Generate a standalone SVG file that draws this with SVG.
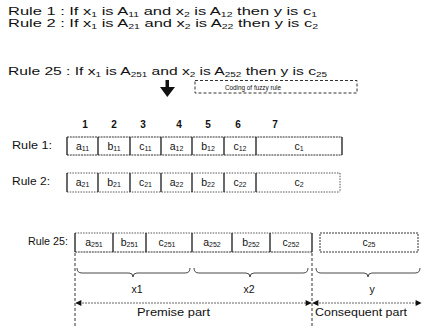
<svg xmlns="http://www.w3.org/2000/svg" width="426" height="327" viewBox="0 0 426 327">
  <defs>
    <style>
      text { font-family: "Liberation Sans", Arial, sans-serif; fill: #111; }
      .t { font-size: 11px; }
      .lbl { font-size: 10.5px; }
      .num { font-size: 10px; font-weight: bold; text-anchor: middle; }
      .cell text { font-size: 10.5px; text-anchor: middle; }
      .sb { font-size: 7px; }
      .small { font-size: 7px; }
      .vline { stroke: #1a1a1a; stroke-width: 1.3; }
      .hline { stroke: #333; stroke-width: 1; stroke-dasharray: 2 0.8; }
      .hdot { stroke: #555; stroke-width: 1; stroke-dasharray: 1.5 1.2; }
      .dash { fill: none; stroke: #333; stroke-width: 1; stroke-dasharray: 3 2; }
      .brace { fill: none; stroke: #333; stroke-width: 0.9; }
      .dim { stroke: #555; stroke-width: 0.9; stroke-dasharray: 2 1; }
    </style>
    <marker id="ah" viewBox="0 0 10 10" refX="9" refY="5" markerWidth="7" markerHeight="6" orient="auto-start-reverse" markerUnits="userSpaceOnUse">
      <path d="M0,0 L10,5 L0,10 z" fill="#111"/>
    </marker>
  </defs>

  <rect width="426" height="327" fill="#fff"/>

  <!-- rule statements (wide lettering) -->
  <g id="rule1-text">
    <text class="t" x="8" y="15" textLength="309" lengthAdjust="spacingAndGlyphs">Rule 1 : If x<tspan class="sb" dy="2">1</tspan><tspan dy="-2"> is A</tspan><tspan class="sb" dy="2">11</tspan><tspan dy="-2"> and x</tspan><tspan class="sb" dy="2">2</tspan><tspan dy="-2"> is A</tspan><tspan class="sb" dy="2">12</tspan><tspan dy="-2"> then y is c</tspan><tspan class="sb" dy="2">1</tspan></text>
  </g>
  <g id="rule2-text">
    <text class="t" x="8" y="27" textLength="310" lengthAdjust="spacingAndGlyphs">Rule 2 : If x<tspan class="sb" dy="2">1</tspan><tspan dy="-2"> is A</tspan><tspan class="sb" dy="2">21</tspan><tspan dy="-2"> and x</tspan><tspan class="sb" dy="2">2</tspan><tspan dy="-2"> is A</tspan><tspan class="sb" dy="2">22</tspan><tspan dy="-2"> then y is c</tspan><tspan class="sb" dy="2">2</tspan></text>
  </g>
  <g id="rule25-text">
    <text class="t" x="8" y="75" textLength="319" lengthAdjust="spacingAndGlyphs">Rule 25 : If x<tspan class="sb" dy="2">1</tspan><tspan dy="-2"> is A</tspan><tspan class="sb" dy="2">251</tspan><tspan dy="-2"> and x</tspan><tspan class="sb" dy="2">2</tspan><tspan dy="-2"> is A</tspan><tspan class="sb" dy="2">252</tspan><tspan dy="-2"> then y is c</tspan><tspan class="sb" dy="2">25</tspan></text>
  </g>

  <!-- coding arrow and caption box -->
  <g id="coding-arrow">
    <rect x="165.5" y="80" width="3.5" height="8" fill="#111"/>
    <path d="M160,87 L175,87 L167.3,97 z" fill="#111"/>
  </g>
  <g id="coding-box">
    <rect class="dash" x="195" y="80.5" width="162" height="12.5"/>
    <text class="small" x="225" y="89.5" textLength="56" lengthAdjust="spacingAndGlyphs">Coding of fuzzy rule</text>
  </g>

  <!-- gene position numbers -->
  <g id="positions">
    <text class="num" x="85" y="128">1</text>
    <text class="num" x="114" y="128">2</text>
    <text class="num" x="143" y="128">3</text>
    <text class="num" x="179" y="128">4</text>
    <text class="num" x="208" y="128">5</text>
    <text class="num" x="238" y="128">6</text>
    <text class="num" x="275" y="128">7</text>
  </g>

  <!-- Rule 1 chromosome -->
  <g id="row-rule1">
    <text class="lbl" x="12" y="149" textLength="40" lengthAdjust="spacingAndGlyphs">Rule 1:</text>
    <line class="hline" x1="67" y1="137" x2="342" y2="137"/>
    <line class="hline" x1="67" y1="155" x2="342" y2="155"/>
    <line class="vline" x1="67" y1="137" x2="67" y2="155"/>
    <line class="vline" x1="98" y1="137" x2="98" y2="155"/>
    <line class="vline" x1="130" y1="137" x2="130" y2="155"/>
    <line class="vline" x1="161" y1="137" x2="161" y2="155"/>
    <line class="vline" x1="192" y1="137" x2="192" y2="155"/>
    <line class="vline" x1="224" y1="137" x2="224" y2="155"/>
    <line class="vline" x1="256" y1="137" x2="256" y2="155"/>
    <line class="vline" x1="342" y1="137" x2="342" y2="155"/>
    <g id="r1-a11" class="cell"><text x="82.5" y="149.5">a<tspan class="sb" dy="1">11</tspan></text></g>
    <g id="r1-b11" class="cell"><text x="114" y="149.5">b<tspan class="sb" dy="1">11</tspan></text></g>
    <g id="r1-c11" class="cell"><text x="145.5" y="149.5">c<tspan class="sb" dy="1">11</tspan></text></g>
    <g id="r1-a12" class="cell"><text x="176.5" y="149.5">a<tspan class="sb" dy="1">12</tspan></text></g>
    <g id="r1-b12" class="cell"><text x="208" y="149.5">b<tspan class="sb" dy="1">12</tspan></text></g>
    <g id="r1-c12" class="cell"><text x="240" y="149.5">c<tspan class="sb" dy="1">12</tspan></text></g>
    <g id="r1-c1" class="cell"><text x="299" y="149.5">c<tspan class="sb" dy="1">1</tspan></text></g>
  </g>

  <!-- Rule 2 chromosome -->
  <g id="row-rule2">
    <text class="lbl" x="12" y="185" textLength="38" lengthAdjust="spacingAndGlyphs">Rule 2:</text>
    <line class="hdot" x1="67" y1="173" x2="340" y2="173"/>
    <line class="hdot" x1="67" y1="192" x2="340" y2="192"/>
    <line class="vline" x1="67" y1="173" x2="67" y2="192"/>
    <line class="vline" x1="98" y1="173" x2="98" y2="192"/>
    <line class="vline" x1="130" y1="173" x2="130" y2="192"/>
    <line class="vline" x1="161" y1="173" x2="161" y2="192"/>
    <line class="vline" x1="192" y1="173" x2="192" y2="192"/>
    <line class="vline" x1="224" y1="173" x2="224" y2="192"/>
    <line class="vline" x1="256" y1="173" x2="256" y2="192"/>
    <line class="hdot" x1="340" y1="173" x2="340" y2="192"/>
    <g id="r2-a21" class="cell"><text x="82.5" y="186">a<tspan class="sb" dy="1">21</tspan></text></g>
    <g id="r2-b21" class="cell"><text x="114" y="186">b<tspan class="sb" dy="1">21</tspan></text></g>
    <g id="r2-c21" class="cell"><text x="145.5" y="186">c<tspan class="sb" dy="1">21</tspan></text></g>
    <g id="r2-a22" class="cell"><text x="176.5" y="186">a<tspan class="sb" dy="1">22</tspan></text></g>
    <g id="r2-b22" class="cell"><text x="208" y="186">b<tspan class="sb" dy="1">22</tspan></text></g>
    <g id="r2-c22" class="cell"><text x="240" y="186">c<tspan class="sb" dy="1">22</tspan></text></g>
    <g id="r2-c2" class="cell"><text x="299" y="186">c<tspan class="sb" dy="1">2</tspan></text></g>
  </g>

  <!-- Rule 25 chromosome -->
  <g id="row-rule25">
    <text class="lbl" x="28" y="245" textLength="40" lengthAdjust="spacingAndGlyphs">Rule 25:</text>
    <line class="hdot" x1="75" y1="233" x2="312" y2="233"/>
    <line class="hline" x1="75" y1="252" x2="312" y2="252"/>
    <line class="vline" x1="75" y1="233" x2="75" y2="252"/>
    <line class="vline" x1="113" y1="233" x2="113" y2="252"/>
    <line class="vline" x1="146" y1="233" x2="146" y2="252"/>
    <line class="vline" x1="192" y1="233" x2="192" y2="252"/>
    <line class="vline" x1="232" y1="233" x2="232" y2="252"/>
    <line class="vline" x1="270" y1="233" x2="270" y2="252"/>
    <line class="vline" x1="312" y1="233" x2="312" y2="252"/>
    <g id="r25-a251" class="cell"><text x="94" y="246">a<tspan class="sb" dy="1">251</tspan></text></g>
    <g id="r25-b251" class="cell"><text x="129.5" y="246">b<tspan class="sb" dy="1">251</tspan></text></g>
    <g id="r25-c251" class="cell"><text x="167" y="246">c<tspan class="sb" dy="1">251</tspan></text></g>
    <g id="r25-a252" class="cell"><text x="212" y="246">a<tspan class="sb" dy="1">252</tspan></text></g>
    <g id="r25-b252" class="cell"><text x="251" y="246">b<tspan class="sb" dy="1">252</tspan></text></g>
    <g id="r25-c252" class="cell"><text x="291" y="246">c<tspan class="sb" dy="1">252</tspan></text></g>
  </g>
  <g id="r25-c25" class="cell">
    <rect class="dash" x="320" y="233" width="98" height="19" style="stroke-dasharray: 2 1"/>
    <text x="369" y="246">c<tspan class="sb" dy="1">25</tspan></text>
  </g>

  <!-- part labels -->
  <g id="label-x1"><text class="lbl" x="137" y="293" text-anchor="middle">x1</text></g>
  <g id="label-x2"><text class="lbl" x="249" y="293" text-anchor="middle">x2</text></g>
  <g id="label-y"><text class="lbl" x="372" y="293" text-anchor="middle">y</text></g>
  <g id="label-premise"><text class="lbl" x="137" y="316" textLength="73" lengthAdjust="spacingAndGlyphs">Premise part</text></g>
  <g id="label-consequent"><text class="lbl" x="315" y="316" textLength="92" lengthAdjust="spacingAndGlyphs">Consequent part</text></g>

  <!-- braces, boundaries and span arrows -->
  <g id="connectors">
    <line class="dash" x1="75" y1="253" x2="75" y2="327"/>
    <line class="dash" x1="312" y1="253" x2="312" y2="327"/>
    <path class="brace" d="M77,268 q0,5 5,5 H129 q4,0 4,4 q0,-4 4,-4 H185 q5,0 5,-5"/>
    <path class="brace" d="M194,268 q0,5 5,5 H246 q4,0 4,4 q0,-4 4,-4 H303 q5,0 5,-5"/>
    <path class="brace" d="M316,268 q0,5 5,5 H364 q4,0 4,4 q0,-4 4,-4 H415 q5,0 5,-5"/>
    <line class="dim" x1="76" y1="303" x2="311" y2="303" marker-start="url(#ah)" marker-end="url(#ah)"/>
    <line class="dim" x1="313" y1="303" x2="421" y2="303" marker-start="url(#ah)" marker-end="url(#ah)"/>
  </g>
</svg>
